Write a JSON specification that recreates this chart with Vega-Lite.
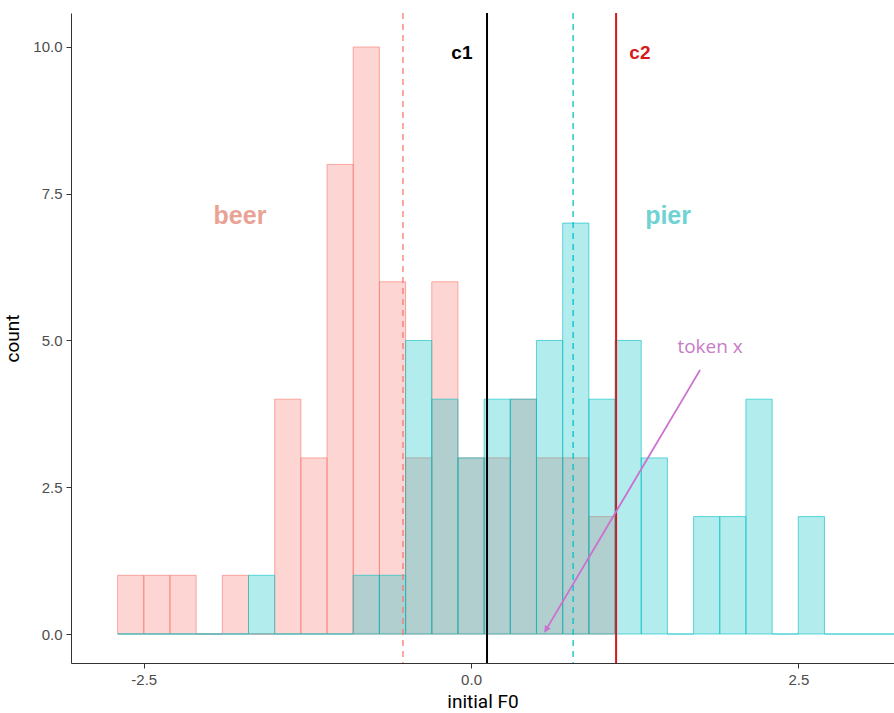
{
  "$schema": "https://vega.github.io/schema/vega-lite/v6.json",
  "width": 823,
  "height": 650,
  "autosize": "none",
  "padding": {"left": 71, "top": 13, "right": 0, "bottom": 50},
  "background": "white",
  "config": {
    "view": {"stroke": null},
    "axis": {
      "grid": false,
      "domainColor": "#333333",
      "domainWidth": 1,
      "tickColor": "#333333",
      "tickSize": 5,
      "labelColor": "#4D4D4D",
      "labelFont": "Liberation Sans",
      "labelFontSize": 15,
      "titleFont": "Roboto",
      "titleFontWeight": "normal",
      "titleFontSize": 19,
      "titleColor": "#000000"
    }
  },
  "datasets": {
    "bins": [
      {"group": "beer", "x0": -2.7, "x1": -2.5, "count": 1},
      {"group": "beer", "x0": -2.5, "x1": -2.3, "count": 1},
      {"group": "beer", "x0": -2.3, "x1": -2.1, "count": 1},
      {"group": "beer", "x0": -2.1, "x1": -1.9, "count": 0},
      {"group": "beer", "x0": -1.9, "x1": -1.7, "count": 1},
      {"group": "beer", "x0": -1.7, "x1": -1.5, "count": 0},
      {"group": "beer", "x0": -1.5, "x1": -1.3, "count": 4},
      {"group": "beer", "x0": -1.3, "x1": -1.1, "count": 3},
      {"group": "beer", "x0": -1.1, "x1": -0.9, "count": 8},
      {"group": "beer", "x0": -0.9, "x1": -0.7, "count": 10},
      {"group": "beer", "x0": -0.7, "x1": -0.5, "count": 6},
      {"group": "beer", "x0": -0.5, "x1": -0.3, "count": 3},
      {"group": "beer", "x0": -0.3, "x1": -0.1, "count": 6},
      {"group": "beer", "x0": -0.1, "x1": 0.1, "count": 3},
      {"group": "beer", "x0": 0.1, "x1": 0.3, "count": 3},
      {"group": "beer", "x0": 0.3, "x1": 0.5, "count": 4},
      {"group": "beer", "x0": 0.5, "x1": 0.7, "count": 3},
      {"group": "beer", "x0": 0.7, "x1": 0.9, "count": 3},
      {"group": "beer", "x0": 0.9, "x1": 1.1, "count": 2},
      {"group": "pier", "x0": -2.7, "x1": -2.5, "count": 0},
      {"group": "pier", "x0": -2.5, "x1": -2.3, "count": 0},
      {"group": "pier", "x0": -2.3, "x1": -2.1, "count": 0},
      {"group": "pier", "x0": -2.1, "x1": -1.9, "count": 0},
      {"group": "pier", "x0": -1.9, "x1": -1.7, "count": 0},
      {"group": "pier", "x0": -1.7, "x1": -1.5, "count": 1},
      {"group": "pier", "x0": -1.5, "x1": -1.3, "count": 0},
      {"group": "pier", "x0": -1.3, "x1": -1.1, "count": 0},
      {"group": "pier", "x0": -1.1, "x1": -0.9, "count": 0},
      {"group": "pier", "x0": -0.9, "x1": -0.7, "count": 1},
      {"group": "pier", "x0": -0.7, "x1": -0.5, "count": 1},
      {"group": "pier", "x0": -0.5, "x1": -0.3, "count": 5},
      {"group": "pier", "x0": -0.3, "x1": -0.1, "count": 4},
      {"group": "pier", "x0": -0.1, "x1": 0.1, "count": 3},
      {"group": "pier", "x0": 0.1, "x1": 0.3, "count": 4},
      {"group": "pier", "x0": 0.3, "x1": 0.5, "count": 4},
      {"group": "pier", "x0": 0.5, "x1": 0.7, "count": 5},
      {"group": "pier", "x0": 0.7, "x1": 0.9, "count": 7},
      {"group": "pier", "x0": 0.9, "x1": 1.1, "count": 4},
      {"group": "pier", "x0": 1.1, "x1": 1.3, "count": 5},
      {"group": "pier", "x0": 1.3, "x1": 1.5, "count": 3},
      {"group": "pier", "x0": 1.5, "x1": 1.7, "count": 0},
      {"group": "pier", "x0": 1.7, "x1": 1.9, "count": 2},
      {"group": "pier", "x0": 1.9, "x1": 2.1, "count": 2},
      {"group": "pier", "x0": 2.1, "x1": 2.3, "count": 4},
      {"group": "pier", "x0": 2.3, "x1": 2.5, "count": 0},
      {"group": "pier", "x0": 2.5, "x1": 2.7, "count": 2},
      {"group": "pier", "x0": 2.7, "x1": 2.9, "count": 0},
      {"group": "pier", "x0": 2.9, "x1": 3.1, "count": 0},
      {"group": "pier", "x0": 3.1, "x1": 3.3, "count": 0}
    ],
    "vlines": [
      {"name": "beer mean", "x": -0.52, "dash": "dashed", "col": "#F8766D"},
      {"name": "pier mean", "x": 0.78, "dash": "dashed", "col": "#00BFC4"},
      {"name": "c1", "x": 0.122, "dash": "solid", "col": "#000000"},
      {"name": "c2", "x": 1.108, "dash": "solid", "col": "#D7191C"}
    ],
    "labels": [
      {"text": "c1", "x": -0.07, "y": 9.9, "col": "#000000", "size": 19, "weight": "bold"},
      {"text": "c2", "x": 1.29, "y": 9.9, "col": "#D7191C", "size": 19, "weight": "bold"},
      {"text": "beer", "x": -1.765, "y": 7.12, "col": "#E9A395", "size": 25, "weight": "bold"},
      {"text": "pier", "x": 1.505, "y": 7.12, "col": "#6FD3D3", "size": 25, "weight": "bold"},
      {"text": "token x", "x": 1.826, "y": 4.89, "col": "#C77CC7", "size": 19, "weight": "normal"}
    ],
    "arrow": [
      {"x": 1.75, "y": 4.5, "xe": 0.58, "ye": 0.1}
    ]
  },
  "layer": [
    {
      "data": {"name": "bins"},
      "transform": [{"filter": "datum.group === 'beer'"}],
      "mark": {"type": "rect", "fill": "#F8766D", "fillOpacity": 0.3, "stroke": "#F8766D", "strokeOpacity": 0.6, "strokeWidth": 1, "clip": true},
      "encoding": {
        "x": {"field": "x0", "type": "quantitative", "scale": {"domain": [-3.056, 3.231], "nice": false, "zero": false}, "axis": {"values": [-2.5, 0, 2.5], "format": ".1f", "labelExpr": "replace(datum.label, '\u2212', '-')", "title": "initial F0", "titlePadding": 5, "labelPadding": 4}},
        "x2": {"field": "x1"},
        "y": {"field": "count", "type": "quantitative", "scale": {"domain": [-0.494, 10.579], "nice": false, "zero": false}, "axis": {"values": [0, 2.5, 5, 7.5, 10], "format": ".1f", "title": "count", "titlePadding": 10, "labelPadding": 4}},
        "y2": {"datum": 0}
      }
    },
    {
      "data": {"name": "bins"},
      "transform": [{"filter": "datum.group === 'pier'"}],
      "mark": {"type": "rect", "fill": "#00BFC4", "fillOpacity": 0.3, "stroke": "#00BFC4", "strokeOpacity": 0.6, "strokeWidth": 1, "clip": true},
      "encoding": {
        "x": {"field": "x0", "type": "quantitative"},
        "x2": {"field": "x1"},
        "y": {"field": "count", "type": "quantitative"},
        "y2": {"datum": 0}
      }
    },
    {
      "data": {"name": "vlines"},
      "transform": [{"filter": "datum.dash === 'dashed'"}],
      "mark": {"type": "rule", "strokeDash": [6, 5], "strokeWidth": 1.5, "opacity": 0.85},
      "encoding": {
        "x": {"field": "x", "type": "quantitative"},
        "color": {"field": "col", "type": "nominal", "scale": null}
      }
    },
    {
      "data": {"name": "vlines"},
      "transform": [{"filter": "datum.dash === 'solid'"}],
      "mark": {"type": "rule", "strokeWidth": 2},
      "encoding": {
        "x": {"field": "x", "type": "quantitative"},
        "color": {"field": "col", "type": "nominal", "scale": null}
      }
    },
    {
      "data": {"name": "labels"},
      "transform": [{"filter": "datum.weight === 'bold'"}],
      "mark": {"type": "text", "font": "Liberation Sans", "fontWeight": "bold", "align": "center", "baseline": "middle"},
      "encoding": {
        "x": {"field": "x", "type": "quantitative"},
        "y": {"field": "y", "type": "quantitative"},
        "text": {"field": "text"},
        "color": {"field": "col", "type": "nominal", "scale": null},
        "size": {"field": "size", "type": "quantitative", "scale": null}
      }
    },
    {
      "data": {"name": "labels"},
      "transform": [{"filter": "datum.weight === 'normal'"}],
      "mark": {"type": "text", "font": "Open Sans", "fontWeight": "normal", "align": "center", "baseline": "middle"},
      "encoding": {
        "x": {"field": "x", "type": "quantitative"},
        "y": {"field": "y", "type": "quantitative"},
        "text": {"field": "text"},
        "color": {"field": "col", "type": "nominal", "scale": null},
        "size": {"field": "size", "type": "quantitative", "scale": null}
      }
    },
    {
      "data": {"name": "arrow"},
      "mark": {"type": "rule", "color": "#CC6FD0", "strokeWidth": 1.8},
      "encoding": {
        "x": {"field": "x", "type": "quantitative"},
        "y": {"field": "y", "type": "quantitative"},
        "x2": {"field": "xe"},
        "y2": {"field": "ye"}
      }
    },
    {
      "data": {"name": "arrow"},
      "mark": {"type": "point", "shape": "M-0.6,-0.3L0,1L0.6,-0.3Z", "filled": true, "color": "#CC6FD0", "size": 120, "opacity": 1, "angle": 31},
      "encoding": {
        "x": {"field": "xe", "type": "quantitative"},
        "y": {"field": "ye", "type": "quantitative"}
      }
    }
  ]
}
